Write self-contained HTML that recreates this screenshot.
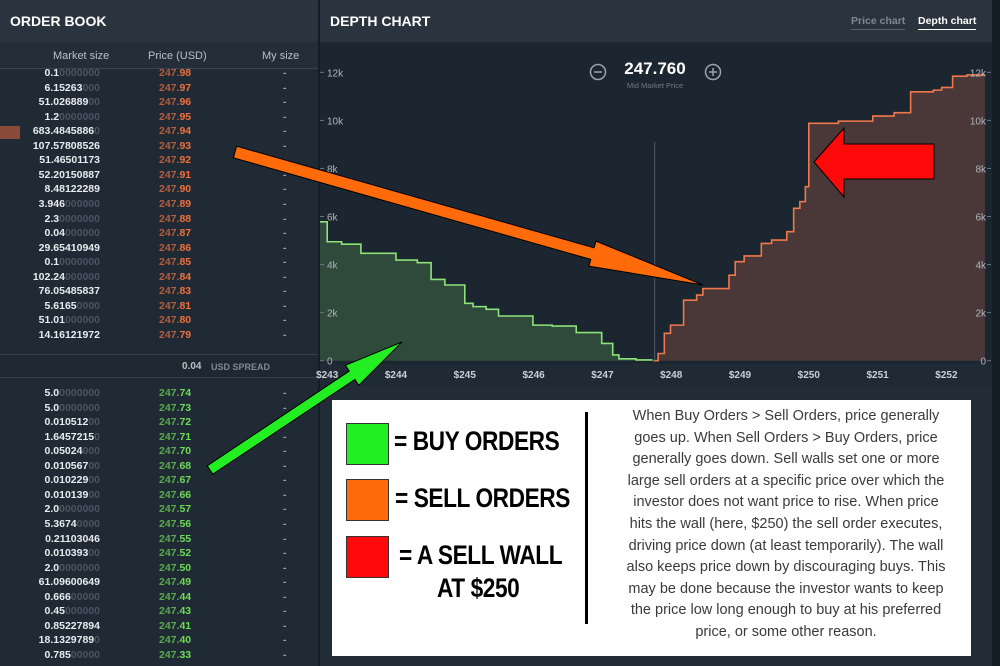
<!DOCTYPE html>
<html><head><meta charset="utf-8">
<style>
*{margin:0;padding:0;box-sizing:border-box}
body{width:1000px;height:666px;overflow:hidden;background:#1b252f;font-family:"Liberation Sans",sans-serif;position:relative}
.abs{position:absolute}
.hdr{background:#29343f;height:42px;top:0}
.hdr .t{position:absolute;left:10px;top:13px;color:#fff;font-weight:bold;font-size:14px}
.row{position:absolute;height:14px;font-size:10.5px;font-weight:bold;line-height:14px}
.ms{position:absolute;right:218px;color:#e8ecef;text-align:right;white-space:nowrap}
.ms .z{color:#4a5560}
.pr{position:absolute;left:159px;width:60px}
.pr .a{opacity:.72}
.my{position:absolute;left:283px;color:#9aa3ab}
#legend-box{left:332px;top:400px;width:639px;height:256px;background:#fff}
.sq{position:absolute;width:43px;height:42px;border:1px solid #333}
.lt{position:absolute;font-size:27px;font-weight:bold;color:#000;transform:scaleX(.84);transform-origin:left top;white-space:nowrap;letter-spacing:-0.5px}
#desc{position:absolute;left:270px;top:6px;width:368px;text-align:center;font-size:14.5px;line-height:21.6px;color:#3a3a3a;white-space:nowrap}
</style></head><body>

<div class="abs" style="left:0;top:0;width:318px;height:666px;background:#1f2a35">
  <div class="abs hdr" style="left:0;width:318px"><span class="t">ORDER BOOK</span></div>
  <div class="abs" style="left:0;top:42px;width:318px;height:27px;background:#232e39;border-bottom:1px solid #3a4550;font-size:11px;color:#b8c0c7">
    <span class="abs" style="left:53px;top:8px">Market size</span>
    <span class="abs" style="left:148px;top:8px">Price (USD)</span>
    <span class="abs" style="left:262px;top:8px">My size</span>
  </div>
  <div id="asks"></div>
  <div class="abs" style="left:0;top:354px;width:318px;height:24px;border-top:1px solid #35404b;border-bottom:1px solid #35404b;background:#1d2832">
    <span class="abs" style="left:182px;top:6px;font-size:10px;font-weight:bold;color:#b9c0c6">0.04</span>
    <span class="abs" style="left:211px;top:7px;font-size:9px;font-weight:bold;color:#7f8a94">USD SPREAD</span>
  </div>
  <div id="bids"></div>
  <div class="abs" style="left:0;top:126px;width:20px;height:13px;background:#8a4a3a"></div>
</div>
<div class="abs" style="left:318px;top:0;width:2px;height:666px;background:#151d25"></div>

<div class="abs" style="left:320px;top:0;width:672px;height:666px;background:#1c2630">
  <div class="abs hdr" style="left:0;width:672px"><span class="t">DEPTH CHART</span>
    <span class="abs" style="left:531px;top:15px;font-size:10.5px;font-weight:bold;color:#7d8891;border-bottom:1px solid #56616b;padding-bottom:2px">Price chart</span>
    <span class="abs" style="left:598px;top:15px;font-size:10.5px;font-weight:bold;color:#fff;border-bottom:1px solid #fff;padding-bottom:2px">Depth chart</span>
  </div>
  <div class="abs" style="left:0;top:364px;width:672px;height:22px;background:#1f2a35"></div>
  <div class="abs" style="left:0;top:386px;width:672px;height:280px;background:#212c37"></div>
</div>
<div class="abs" style="left:992px;top:0;width:8px;height:666px;background:#141c24"></div>

<svg class="abs" id="chart" style="left:0;top:0" width="1000" height="666" viewBox="0 0 1000 666"></svg>

<div class="abs" id="legend-box">
  <div class="sq" style="left:14px;top:23px;background:#22ee22"></div>
  <div class="lt" style="left:62px;top:26px">= BUY ORDERS</div>
  <div class="sq" style="left:14px;top:79px;background:#ff6a0a"></div>
  <div class="lt" style="left:63px;top:83px">= SELL ORDERS</div>
  <div class="sq" style="left:14px;top:136px;background:#ff0a0a"></div>
  <div class="lt" style="left:67px;top:140px">= A SELL WALL</div>
  <div class="lt" style="left:105px;top:173px">AT $250</div>
  <div class="abs" style="left:253px;top:12px;width:3px;height:212px;background:#000"></div>
  <div id="desc">When Buy Orders &gt; Sell Orders, price generally<br>goes up. When Sell Orders &gt; Buy Orders, price<br>generally goes down. Sell walls set one or more<br>large sell orders at a specific price over which the<br>investor does not want price to rise. When price<br>hits the wall (here, $250) the sell order executes,<br>driving price down (at least temporarily). The wall<br>also keeps price down by discouraging buys. This<br>may be done because the investor wants to keep<br>the price low long enough to buy at his preferred<br>price, or some other reason.</div>
</div>

<svg class="abs" style="left:0;top:0" width="1000" height="666">
  <polygon points="236.6,146.2 594,247.8 596,241.1 703,285 588.9,266.1 590.8,259.4 233.4,157.8" fill="#ff6a0a" stroke="#000" stroke-width="1"/>
  <polygon points="207.2,465.8 349.3,371.1 345.4,365.3 402,342 358.8,385.3 354.9,379.5 212.8,474.2" fill="#22ee22" stroke="#000" stroke-width="1"/>
  <polygon points="814,162 844,128 844,144 934,144 934,179 844,179 844,197" fill="#ff0a0a" stroke="#000" stroke-width="1"/>
</svg>

<script>
const askSizes=["0.1|0000000","6.15263|000","51.026889|00","1.2|0000000","683.4845886|0","107.57808526|","51.46501173|","52.20150887|","8.48122289|","3.946|000000","2.3|0000000","0.04|000000","29.65410949|","0.1|0000000","102.24|000000","76.05485837|","5.6165|0000","51.01|000000","14.16121972|"];
const askPrices=["98","97","96","95","94","93","92","91","90","89","88","87","86","85","84","83","81","80","79"];
const bidSizes=["5.0|0000000","5.0|0000000","0.010512|00","1.6457215|0","0.05024|000","0.010567|00","0.010229|00","0.010139|00","2.0|0000000","5.3674|0000","0.21103046|","0.010393|00","2.0|0000000","61.09600649|","0.666|00000","0.45|000000","0.85227894|","18.1329789|0","0.785|00000"];
const bidPrices=["74","73","72","71","70","68","67","66","57","56","55","52","50","49","44","43","41","40","33"];
function rows(id,sizes,prices,top,color,kind){
  const c=document.getElementById(id);
  sizes.forEach((s,i)=>{
    const [a,z]=s.split('|');
    const r=document.createElement('div');
    r.className='row';
    
    
    r.style.top=(top+i*14.55)+'px';r.style.left='0';r.style.width='318px';
    r.innerHTML='<span class="ms">'+a+'<span class="z">'+z+'</span></span><span class="pr" style="color:'+color+'"><span class="a">247.</span>'+prices[i]+'</span><span class="my">-</span>';
    c.appendChild(r);
  });
}
rows('asks',askSizes,askPrices,66,'#f0703e','ask');
rows('bids',bidSizes,bidPrices,386,'#6fdc55','bid');

// chart data
const buyPrices=[242.87,243.0,243.21,243.49,244.0,244.31,244.51,244.71,245.0,245.12,245.31,245.49,245.99,246.27,246.62,246.99,247.15,247.24,247.49,247.73];
const buyDepth=[5.78,4.95,4.85,4.47,4.19,4.08,3.38,3.15,2.39,2.25,2.14,1.86,1.48,1.44,1.17,0.72,0.24,0.08,0.03];
const sellPrices=[247.74,247.81,247.9,247.99,248.18,248.37,248.46,248.84,248.93,249.06,249.31,249.46,249.68,249.78,249.87,249.95,250.0,250.43,250.93,251.24,251.48,251.81,251.93,252.09,252.3,252.56];
const sellDepth=[0,0.3,1.14,1.48,2.52,2.73,3.0,3.56,4.12,4.36,4.88,5.02,5.37,6.34,6.62,7.24,9.88,9.97,10.18,10.32,11.19,11.26,11.37,11.84,11.89];
const xTicks=[243,244,245,246,247,248,249,250,251,252];
const yTicks=[0,2,4,6,8,10,12];
const midPrice=247.76;

const X0=320,X1=990;
function x(p){return Math.max(X0,Math.min(X1,396+(p-244)*68.8));}
function xr(p){return 396+(p-244)*68.8;}
function y(v){return 360.7-v*24.03;}
const svg=document.getElementById('chart');
const NS='http://www.w3.org/2000/svg';
function el(t,a){const e=document.createElementNS(NS,t);for(const k in a)e.setAttribute(k,a[k]);svg.appendChild(e);return e;}
function stepPath(pr,dp){
  let d='M'+x(pr[0])+','+y(dp[0]);
  for(let i=0;i<dp.length;i++){
    if(i>0)d+=' L'+x(pr[i])+','+y(dp[i]);
    d+=' L'+x(pr[i+1])+','+y(dp[i]);
  }
  return d;
}
const bl=stepPath(buyPrices,buyDepth);
const bf=el('path',{d:bl+' L'+x(buyPrices[buyPrices.length-1])+','+y(0)+' L'+x(buyPrices[0])+','+y(0)+' Z',fill:'#2f4a3b'});


const bln=el('path',{d:bl,fill:'none',stroke:'#8ee27a','stroke-width':1.6});


const sl=stepPath(sellPrices,sellDepth);
const sf=el('path',{d:sl+' L'+x(sellPrices[sellPrices.length-1])+','+y(0)+' L'+x(sellPrices[0])+','+y(0)+' Z',fill:'#4a3838'});


const sln=el('path',{d:sl,fill:'none',stroke:'#f0784a','stroke-width':1.6});


const ml=el('line',{x1:xr(midPrice),x2:xr(midPrice),y1:142,y2:y(0),stroke:'#4e5963','stroke-width':1});


xTicks.forEach(p=>{
  const t=el('text',{x:xr(p),y:378,'text-anchor':'middle','font-size':10,'font-weight':'bold',fill:'#c9d0d6','font-family':'Liberation Sans, sans-serif'});
  t.textContent='$'+p;
  
  
});
yTicks.forEach(v=>{
  const lab=v===0?'0':v+'k';
  const a=el('text',{x:327,y:y(v)+4,'font-size':10,fill:'#aeb6bd','font-family':'Liberation Sans, sans-serif'});
  a.textContent=lab;
  
  
  const b=el('text',{x:986,y:y(v)+4,'text-anchor':'end','font-size':10,fill:'#aeb6bd','font-family':'Liberation Sans, sans-serif'});
  b.textContent=lab;
  
  
  el('line',{x1:320,x2:324,y1:y(v),y2:y(v),stroke:'#6a747d'});
  el('line',{x1:987,x2:991,y1:y(v),y2:y(v),stroke:'#6a747d'});
});
const mp=el('text',{x:655,y:74,'text-anchor':'middle','font-size':17,'font-weight':'bold',fill:'#fff','font-family':'Liberation Sans, sans-serif'});
mp.textContent='247.760';


const mpl=el('text',{x:655,y:88,'text-anchor':'middle','font-size':7.5,fill:'#6f7a84','font-family':'Liberation Sans, sans-serif'});
mpl.textContent='Mid Market Price';


const zo=el('g',{});


zo.innerHTML='<circle cx="598" cy="72" r="7.5" fill="none" stroke="#9aa3ab" stroke-width="1.5"/><line x1="594" x2="602" y1="72" y2="72" stroke="#9aa3ab" stroke-width="1.5"/>';
const zi=el('g',{});


zi.innerHTML='<circle cx="713" cy="72" r="7.5" fill="none" stroke="#9aa3ab" stroke-width="1.5"/><line x1="709" x2="717" y1="72" y2="72" stroke="#9aa3ab" stroke-width="1.5"/><line x1="713" x2="713" y1="68" y2="76" stroke="#9aa3ab" stroke-width="1.5"/>';
</script>
</body></html>
